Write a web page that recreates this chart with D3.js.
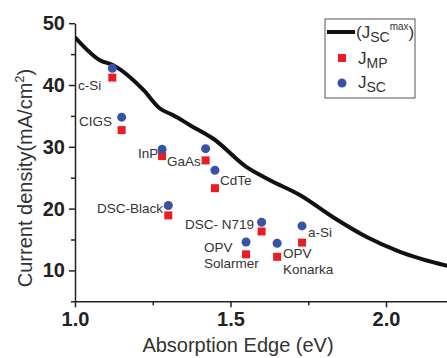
<!DOCTYPE html>
<html>
<head>
<meta charset="utf-8">
<script src="https://cdn.jsdelivr.net/npm/d3@7"></script>
<style>
  body { margin: 0; background: #fff; }
  svg { font-family: Arial, "Liberation Sans", sans-serif; }
  .axis path, .axis line { stroke: #222; stroke-width: 1.5; }
  .axis text { font-weight: bold; font-size: 20px; fill: #222; }
</style>
</head>
<body>
<div id="chart"></div>
<script>
// theoretical max Jsc curve
const curveEdge = [1.0, 1.08, 1.123, 1.22, 1.273, 1.316, 1.37, 1.445, 1.552, 1.627, 1.723, 1.83, 1.938, 2.045, 2.2];
const curveJsc = [47.7, 44.0, 43.2, 39.2, 36.2, 35.1, 33.5, 31.3, 26.7, 24.6, 22.2, 18.6, 15.4, 13.0, 10.7];

// devices
const devices = ["c-Si", "CIGS", "InP", "GaAs", "CdTe", "DSC-Black", "DSC- N719", "a-Si", "OPV Solarmer", "OPV Konarka"];
const deviceEdge = [1.12, 1.15, 1.28, 1.42, 1.45, 1.30, 1.60, 1.73, 1.55, 1.65];
const deviceJsc = [42.7, 34.8, 29.6, 29.7, 26.2, 20.5, 17.8, 17.2, 14.6, 14.4];
const deviceJmp = [41.2, 32.7, 28.5, 27.8, 23.3, 18.9, 16.3, 14.5, 12.6, 12.2];

const xMajor = [1.0, 1.5, 2.0];
const xMinor = [1.25, 1.75];
const yMajor = [10, 20, 30, 40, 50];
const yMinor = [5, 15, 25, 35, 45];

const width = 447, height = 358;
const margin = { left: 75, top: 23.2, bottom: 301.3 };

const svg = d3.select("#chart").append("svg")
    .attr("width", width)
    .attr("height", height);

const x = d3.scaleLinear().domain([1.0, 2.2]).range([margin.left, 448.2]);
const y = d3.scaleLinear().domain([5, 50]).range([margin.bottom, margin.top]);

// axes
svg.append("g")
    .attr("class", "axis")
    .attr("transform", `translate(0,${margin.bottom})`)
    .call(d3.axisBottom(x).tickValues(xMajor).tickFormat(d3.format(".1f")).tickSizeInner(6).tickSizeOuter(0).tickPadding(5));
svg.append("g")
    .attr("class", "axis")
    .attr("transform", `translate(0,${margin.bottom})`)
    .call(d3.axisBottom(x).tickValues(xMinor).tickFormat("").tickSizeInner(4).tickSizeOuter(0))
    .select(".domain").remove();

svg.append("g")
    .attr("class", "axis")
    .attr("transform", `translate(${margin.left},0)`)
    .call(d3.axisLeft(y).tickValues(yMajor).tickSizeInner(6).tickSizeOuter(0).tickPadding(4));
svg.append("g")
    .attr("class", "axis")
    .attr("transform", `translate(${margin.left},0)`)
    .call(d3.axisLeft(y).tickValues(yMinor).tickFormat("").tickSizeInner(4).tickSizeOuter(0))
    .select(".domain").remove();

// axis titles
svg.append("text")
    .attr("x", 238).attr("y", 352)
    .attr("text-anchor", "middle")
    .attr("font-size", 20).attr("fill", "#333")
    .text("Absorption Edge (eV)");

const yt = svg.append("text")
    .attr("transform", "translate(32,178) rotate(-90)")
    .attr("text-anchor", "middle")
    .attr("font-size", 20).attr("fill", "#333");
yt.append("tspan").text("Current density(mA/cm");
yt.append("tspan").attr("font-size", 13).attr("dy", -8).text("2");
yt.append("tspan").attr("dy", 8).text(")");

// curve
svg.append("clipPath").attr("id", "clip")
    .append("rect").attr("x", margin.left).attr("y", 0).attr("width", width - margin.left).attr("height", margin.bottom);

const curve = curveEdge.map((e, i) => [e, curveJsc[i]]);
svg.append("path")
    .datum(curve)
    .attr("clip-path", "url(#clip)")
    .attr("fill", "none")
    .attr("stroke", "#111")
    .attr("stroke-width", 4)
    .attr("d", d3.line().x(d => x(d[0])).y(d => y(d[1])).curve(d3.curveMonotoneX));

// points
const red = "#ec1c24", blue = "#3953a4";
const pts = devices.map((name, i) => ({ name, e: deviceEdge[i], jsc: deviceJsc[i], jmp: deviceJmp[i] }));

svg.selectAll("rect.jmp")
    .data(pts).enter().append("rect")
    .attr("class", "jmp")
    .attr("x", d => x(d.e) - 4).attr("y", d => y(d.jmp) - 4)
    .attr("width", 8).attr("height", 8)
    .attr("fill", red);

svg.selectAll("circle.jsc")
    .data(pts).enter().append("circle")
    .attr("class", "jsc")
    .attr("cx", d => x(d.e)).attr("cy", d => y(d.jsc))
    .attr("r", 4.5)
    .attr("fill", blue);

// device labels
const labels = [
    { t: ["c-Si"], x: 78, y: 90 },
    { t: ["CIGS"], x: 79, y: 126 },
    { t: ["InP"], x: 138, y: 158 },
    { t: ["GaAs"], x: 167, y: 166 },
    { t: ["CdTe"], x: 220, y: 185 },
    { t: ["DSC-Black"], x: 97, y: 213 },
    { t: ["DSC- N719"], x: 185, y: 229 },
    { t: ["a-Si"], x: 308, y: 237 },
    { t: ["OPV", "Solarmer"], x: 204, y: 252 },
    { t: ["OPV", "Konarka"], x: 283, y: 258 }
];
labels.forEach(l => {
    const tx = svg.append("text").attr("font-size", 13.5).attr("fill", "#333");
    l.t.forEach((line, k) => {
        tx.append("tspan").attr("x", l.x).attr("y", l.y + k * 16).text(line);
    });
});

// legend
const lg = svg.append("g");
lg.append("rect")
    .attr("x", 325).attr("y", 19).attr("width", 90).attr("height", 79)
    .attr("fill", "#fff").attr("stroke", "#555").attr("stroke-width", 1);
lg.append("line")
    .attr("x1", 327).attr("x2", 355).attr("y1", 32).attr("y2", 32)
    .attr("stroke", "#111").attr("stroke-width", 4);
const l1 = lg.append("text").attr("x", 356).attr("y", 38).attr("font-size", 17).attr("fill", "#333");
l1.append("tspan").text("(J");
l1.append("tspan").attr("font-size", 14).attr("dy", 4).text("SC");
l1.append("tspan").attr("font-size", 10).attr("dy", -12).text("max");
l1.append("tspan").attr("dy", 8).text(")");

lg.append("rect").attr("x", 338).attr("y", 54).attr("width", 8).attr("height", 8).attr("fill", red);
const l2 = lg.append("text").attr("x", 358).attr("y", 64).attr("font-size", 17).attr("fill", "#333");
l2.append("tspan").text("J");
l2.append("tspan").attr("font-size", 14).attr("dy", 4).text("MP");

lg.append("circle").attr("cx", 342).attr("cy", 83).attr("r", 4.5).attr("fill", blue);
const l3 = lg.append("text").attr("x", 358).attr("y", 88).attr("font-size", 17).attr("fill", "#333");
l3.append("tspan").text("J");
l3.append("tspan").attr("font-size", 14).attr("dy", 4).text("SC");
</script>
</body>
</html>
